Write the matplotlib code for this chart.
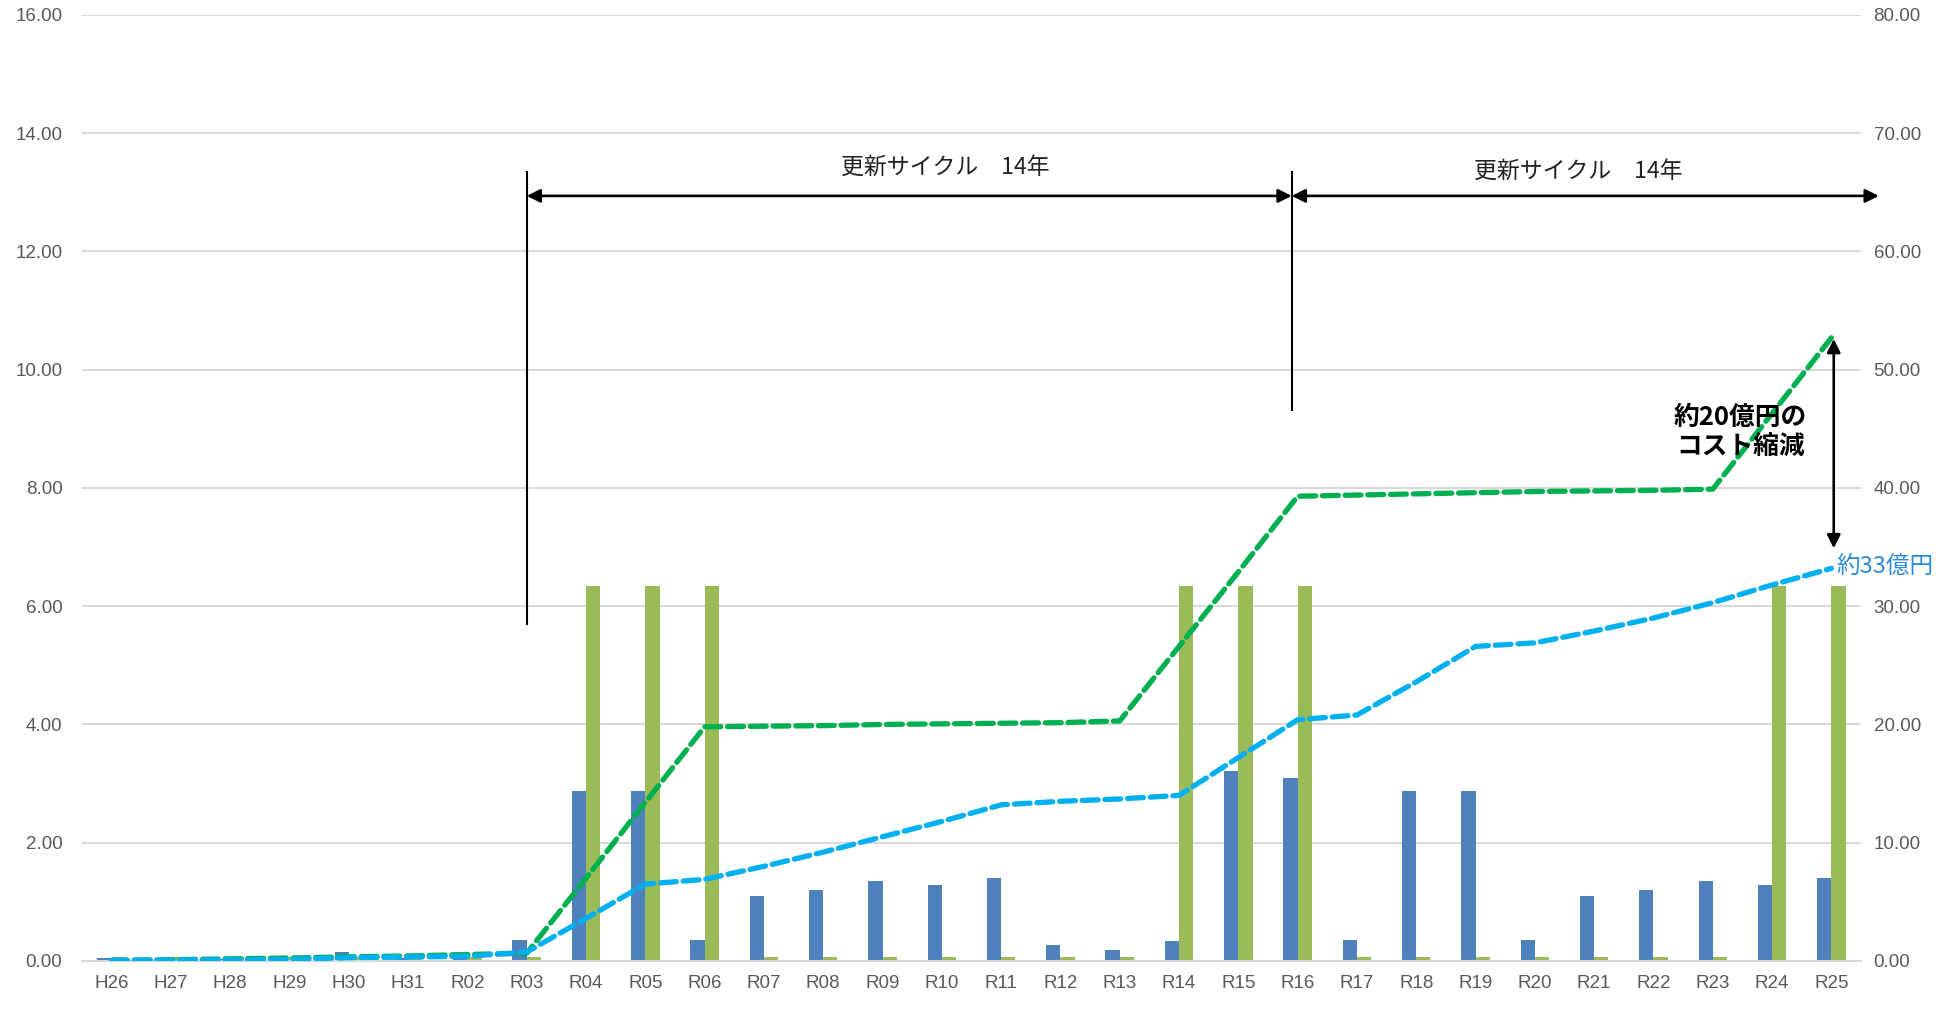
import matplotlib
matplotlib.use("Agg")
import matplotlib.pyplot as plt
import numpy as np

categories = ["H26", "H27", "H28", "H29", "H30", "H31", "R02", "R03", "R04", "R05",
              "R06", "R07", "R08", "R09", "R10", "R11", "R12", "R13", "R14", "R15",
              "R16", "R17", "R18", "R19", "R20", "R21", "R22", "R23", "R24", "R25"]

blue_bars = [0.05, 0.02, 0.03, 0.03, 0.15, 0.05, 0.07, 0.35, 2.88, 2.88,
             0.35, 1.10, 1.20, 1.35, 1.28, 1.40, 0.27, 0.18, 0.33, 3.22,
             3.10, 0.35, 2.88, 2.88, 0.35, 1.10, 1.20, 1.35, 1.28, 1.40]

green_bars = [0.06, 0.06, 0.06, 0.06, 0.06, 0.06, 0.06, 0.06, 6.35, 6.35,
              6.35, 0.06, 0.06, 0.06, 0.06, 0.06, 0.06, 0.06, 6.35, 6.35,
              6.35, 0.06, 0.06, 0.06, 0.06, 0.06, 0.06, 0.06, 6.35, 6.35]

green_line = [0.05, 0.10, 0.18, 0.25, 0.35, 0.42, 0.55, 0.65, 7.0, 13.4,
              19.8, 19.85, 19.9, 20.0, 20.05, 20.1, 20.15, 20.3, 26.6, 32.9,
              39.3, 39.4, 39.5, 39.6, 39.7, 39.75, 39.8, 39.9, 46.3, 52.7]

blue_line = [0.05, 0.07, 0.10, 0.13, 0.28, 0.33, 0.40, 0.75, 3.6, 6.5,
             6.9, 8.0, 9.2, 10.5, 11.8, 13.2, 13.5, 13.7, 14.0, 17.2,
             20.4, 20.8, 23.6, 26.6, 26.9, 27.9, 29.0, 30.3, 31.8, 33.2]

left_ticks = [0, 2, 4, 6, 8, 10, 12, 14, 16]
right_ticks = [0, 10, 20, 30, 40, 50, 60, 70, 80]

TICK_FONT = "Liberation Sans"
CJK = ["Noto Sans CJK JP", "DejaVu Sans"]
plt.rcParams['font.family'] = CJK

fig = plt.figure(figsize=(19.41, 10.11), dpi=100)
ax = fig.add_axes([0.0422, 0.0495, 0.9166, 0.9357])
ax2 = ax.twinx()

x = np.arange(len(categories))
w = 0.24
ax.bar(x - w / 2, blue_bars, width=w, color="#4F81BD", zorder=2)
ax.bar(x + w / 2, green_bars, width=w, color="#9BBB59", zorder=2)

ax.set_xlim(-0.5, len(categories) - 0.5)
ax.set_ylim(0, 16)
ax.set_yticks(left_ticks)
ax.set_yticklabels([f"{v:.2f}" for v in left_ticks])
ax.set_xticks(x)
ax.set_xticklabels(categories)
ax.yaxis.grid(True, color="#D9D9D9", lw=1.5)
ax.set_axisbelow(True)
for s in ["top", "right", "left"]:
    ax.spines[s].set_visible(False)
ax.spines["bottom"].set_color("#D9D9D9")
ax.spines["bottom"].set_linewidth(1.5)
ax.tick_params(axis="both", length=0, colors="#595959", labelsize=13.5)
ax.tick_params(axis="y", pad=14)
ax.tick_params(axis="x", pad=10)
for lab in ax.get_xticklabels() + ax.get_yticklabels():
    lab.set_fontfamily(TICK_FONT)

ax2.set_ylim(0, 80)
ax2.set_yticks(right_ticks)
ax2.set_yticklabels([f"{v:.2f}" for v in right_ticks])
for s in ["top", "right", "left", "bottom"]:
    ax2.spines[s].set_visible(False)
ax2.tick_params(axis="y", length=0, colors="#595959", labelsize=13.5, pad=9)
for lab in ax2.get_yticklabels():
    lab.set_fontfamily(TICK_FONT)

ax2.plot(x, green_line, color="#00B050", lw=3.8, dashes=(3.0, 1.3),
         dash_capstyle="round", solid_joinstyle="round", zorder=3)
ax2.plot(x, blue_line, color="#00B0F0", lw=3.8, dashes=(3.0, 1.3),
         dash_capstyle="round", solid_joinstyle="round", zorder=3)

# annotations (right-axis units)
ax2.plot([7.0, 7.0], [28.5, 66.7], color="black", lw=1.5, zorder=4)
ax2.plot([19.9, 19.9], [46.6, 66.7], color="black", lw=1.5, zorder=4)
arrow = dict(arrowstyle="<|-|>", lw=1.9, color="black", mutation_scale=20,
             shrinkA=0, shrinkB=0)
ax2.annotate("", xy=(7.0, 64.7), xytext=(19.9, 64.7), arrowprops=arrow,
             annotation_clip=False, zorder=4)
ax2.annotate("", xy=(19.9, 64.7), xytext=(29.8, 64.7), arrowprops=arrow,
             annotation_clip=False, zorder=4)
ax2.annotate("", xy=(29.04, 52.6), xytext=(29.04, 34.9), arrowprops=arrow,
             annotation_clip=False, zorder=4)
ax2.text(14.05, 67.1, "更新サイクル　14年", ha="center", va="center",
         fontsize=16.5, color="#222222", zorder=5)
ax2.text(24.74, 66.8, "更新サイクル　14年", ha="center", va="center",
         fontsize=16.5, color="#222222", zorder=5)
ax2.text(27.47, 44.7, "約20億円の\nコスト縮減", ha="center", va="center",
         fontsize=18.5, color="black", fontweight="bold", linespacing=1.1, zorder=5)
ax2.text(29.08, 33.4, "約33億円", ha="left", va="center",
         fontsize=17, color="#2E8BD8", zorder=5, clip_on=False)

fig.savefig("out.png", dpi=100)
